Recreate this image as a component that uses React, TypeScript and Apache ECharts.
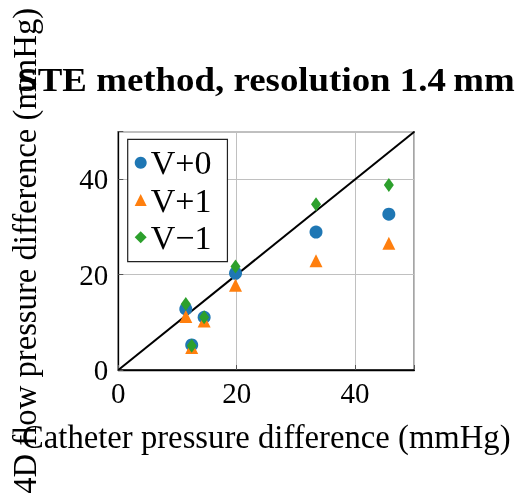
import React, { useEffect, useRef } from "react";
import * as echarts from "echarts";

const catheterX = [11.4, 14.5, 12.4, 19.8, 33.4, 45.7];
const vPlus0 = [12.8, 11.05, 5.25, 20.3, 28.95, 32.7];
const vPlus1 = [11.2, 10.3, 4.7, 17.8, 22.9, 26.6];
const vMinus1 = [13.85, 11.05, 5.1, 21.7, 34.8, 38.8];
const seriesNames = ["V+0", "V+1", "V\u22121"];
const identityLine = [[0, 0], [50, 50]];
const axisTicks = [0, 20, 40];

const FONT = "'Liberation Serif', 'DejaVu Serif', serif";

export default function App() {
  const ref = useRef<HTMLDivElement>(null);
  useEffect(() => {
    if (!ref.current) return;
    const chart = echarts.init(ref.current, undefined, { renderer: "svg" });
    const pair = (ys: number[]) => catheterX.map((x, i) => [x, ys[i]]);
    const axisCommon = {
      min: 0,
      max: 50,
      interval: 20,
      axisLine: { show: true, onZero: false, lineStyle: { color: "#000", width: 1.3 } },
      axisTick: { show: true, inside: true, length: 5, lineStyle: { color: "#555" } },
      splitLine: { show: true, lineStyle: { color: "#c0c0c0", width: 1 } },
      axisLabel: {
        fontFamily: FONT,
        fontSize: 29,
        color: "#000",
        formatter: (v: number) => (axisTicks.includes(v) ? String(v) : ""),
      },
      nameLocation: "middle" as const,
      nameTextStyle: { fontFamily: FONT, fontSize: 32.7, color: "#000" },
    };
    chart.setOption({
      animation: false,
      graphic: [
        {
          type: "text",
          x: 266,
          y: 79,
          scaleX: 1.085,
          style: {
            text: "STE method, resolution 1.4\u2009mm",
            fontFamily: FONT,
            fontSize: 34,
            fontWeight: "bold",
            fill: "#000",
            textAlign: "center",
            textVerticalAlign: "middle",
          },
          z: 10,
        },
      ],
      grid: {
        left: 118.3,
        right: 102.7,
        top: 131.7,
        bottom: 127,
        show: true,
        borderColor: "#000",
        borderWidth: 1.3,
      },
      xAxis: {
        ...axisCommon,
        type: "value",
        name: "Catheter pressure difference (mmHg)",
        nameGap: 50,
        axisLabel: { ...axisCommon.axisLabel, margin: 8 },
      },
      yAxis: {
        ...axisCommon,
        type: "value",
        name: "4D flow pressure difference (mmHg)",
        nameGap: 77,
        axisLabel: { ...axisCommon.axisLabel, margin: 10 },
      },
      legend: {
        left: 127.7,
        top: 139.3,
        orient: "vertical",
        backgroundColor: "#fff",
        borderColor: "#222",
        borderWidth: 1.2,
        borderRadius: 0,
        padding: [6.4, 16, 7.4, 7],
        itemGap: 3.3,
        itemWidth: 12,
        itemHeight: 12,
        textStyle: { fontFamily: FONT, fontSize: 34, color: "#000", padding: [0, 0, 0, -1] },
        data: seriesNames,
      },
      series: [
        {
          type: "line",
          data: identityLine,
          symbol: "none",
          lineStyle: { color: "#000", width: 2 },
          z: 1,
          silent: true,
        },
        {
          name: seriesNames[0],
          type: "scatter",
          data: pair(vPlus0),
          symbol: "circle",
          symbolSize: 13,
          itemStyle: { color: "#1f77b4", opacity: 1 },
          z: 2,
        },
        {
          name: seriesNames[1],
          type: "scatter",
          data: pair(vPlus1),
          symbol: "triangle",
          symbolSize: 13,
          itemStyle: { color: "#ff7f0e", opacity: 1 },
          z: 3,
        },
        {
          name: seriesNames[2],
          type: "scatter",
          data: pair(vMinus1),
          symbol: "diamond",
          symbolSize: [10, 14],
          itemStyle: { color: "#2ca02c", opacity: 1 },
          z: 4,
        },
      ],
    });
    return () => chart.dispose();
  }, []);
  return (
    <div
      ref={ref}
      style={{ position: "fixed", left: 0, top: 0, width: 517, height: 497 }}
    />
  );
}
